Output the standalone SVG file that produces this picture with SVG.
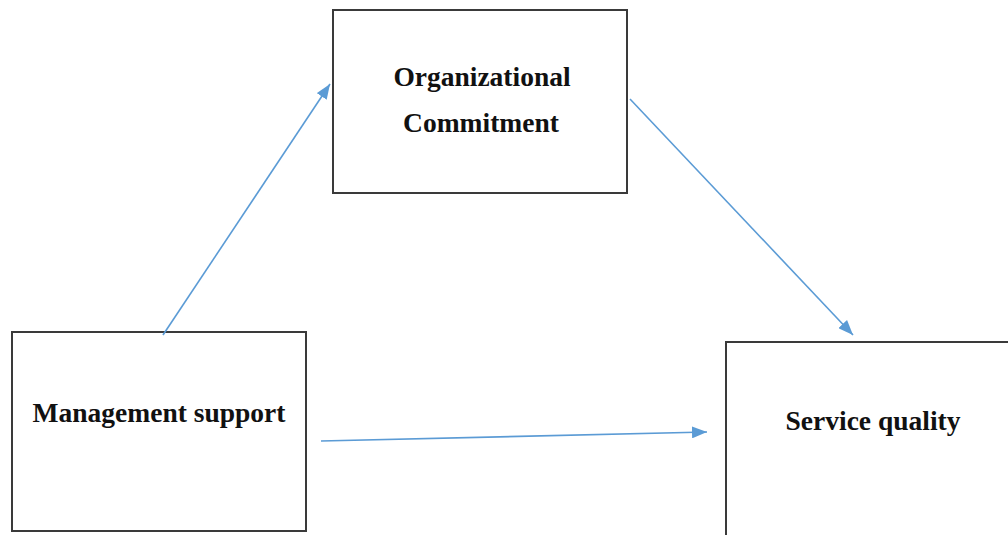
<svg xmlns="http://www.w3.org/2000/svg" width="1008" height="535" viewBox="0 0 1008 535">
<style>
.box{fill:#fff;stroke:#3a3a3a;stroke-width:2}
.lbl{font-family:"Liberation Serif","Times New Roman",serif;font-weight:bold;font-size:27.5px;fill:#111;text-anchor:middle}
.conn{stroke:#5b9bd5;stroke-width:1.6;fill:none}
</style>
<defs>
<marker id="ah" viewBox="0 0 10 10" refX="10" refY="5" markerWidth="15" markerHeight="12" markerUnits="userSpaceOnUse" orient="auto" preserveAspectRatio="none">
<path d="M0,0 L10,5 L0,10 z" fill="#5b9bd5"/>
</marker>
</defs>
<rect width="1008" height="535" fill="#fff"/>
<g id="org">
<rect class="box" x="333" y="10" width="294" height="183"/>
<text class="lbl" x="482" y="86">Organizational</text>
<text class="lbl" x="481" y="132">Commitment</text>
</g>
<g id="mgmt">
<rect class="box" x="12" y="332" width="294" height="199"/>
<text class="lbl" x="159" y="422">Management support</text>
</g>
<g id="svc">
<rect class="box" x="726" y="342" width="300" height="210"/>
<text class="lbl" x="873" y="430">Service quality</text>
</g>
<g id="connectors">
<line class="conn" x1="163" y1="335" x2="330" y2="84" marker-end="url(#ah)"/>
<line class="conn" x1="630" y1="99" x2="853" y2="335" marker-end="url(#ah)"/>
<line class="conn" x1="321" y1="441" x2="707" y2="432" marker-end="url(#ah)"/>
</g>
</svg>
